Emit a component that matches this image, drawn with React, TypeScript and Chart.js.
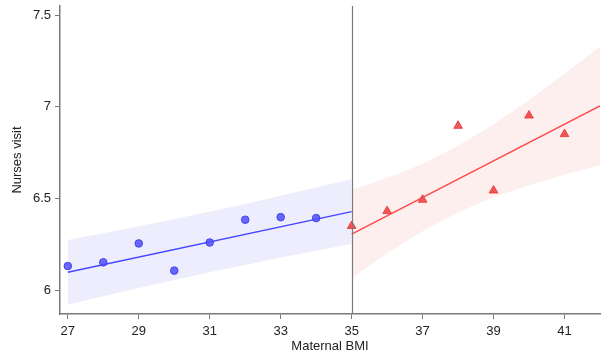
import React, { useEffect, useRef } from "react";
import { Chart, registerables } from "chart.js";

Chart.register(...registerables);

// Binned means, left group (circles)
const bmiLow = [27, 28, 29, 30, 31, 32, 33, 34];
const visitsLow = [6.134, 6.154, 6.257, 6.109, 6.262, 6.386, 6.4, 6.395];
// Binned means, right group (triangles)
const bmiHigh = [35, 36, 37, 38, 39, 40, 41];
const visitsHigh = [6.352, 6.433, 6.495, 6.897, 6.545, 6.953, 6.852];

// Fitted lines
const fitLowX = [27, 35];
const fitLowY = [6.1, 6.43];
const fitHighX = [35, 42];
const fitHighY = [6.308, 7.005];

// Confidence bands
const bandLowX = [27, 28, 29, 30, 31, 32, 33, 34, 35];
const bandLowLower = [5.924, 5.969, 6.015, 6.058, 6.1, 6.14, 6.18, 6.217, 6.254];
const bandLowUpper = [6.276, 6.313, 6.351, 6.39, 6.43, 6.472, 6.516, 6.561, 6.606];
const bandHighX = [35, 36, 37, 38, 39, 40, 41, 42];
const bandHighLower = [6.068, 6.203, 6.323, 6.425, 6.508, 6.574, 6.631, 6.682];
const bandHighUpper = [6.548, 6.613, 6.691, 6.789, 6.906, 7.038, 7.181, 7.328];

// Axes
const xTicks = [27, 29, 31, 33, 35, 37, 39, 41];
const yTicks = [6, 6.5, 7, 7.5];
const cutoff = 35;

const pts = (xs: number[], ys: number[]) => xs.map((x, i) => ({ x, y: ys[i] }));

export default function App() {
  const ref = useRef<HTMLCanvasElement | null>(null);

  useEffect(() => {
    if (!ref.current) return;
    const font = { family: "'Liberation Sans', Arial, sans-serif", size: 13 };
    const axisColor = "#7a7a7a";

    const cutoffLine = {
      id: "cutoffLine",
      afterDatasetsDraw(chart: any) {
        const { ctx, chartArea, scales } = chart;
        const x = Math.round(scales.x.getPixelForValue(cutoff)) + 0.5;
        ctx.save();
        ctx.strokeStyle = "#7a7a7a";
        ctx.lineWidth = 1.2;
        ctx.beginPath();
        ctx.moveTo(x, chartArea.top);
        ctx.lineTo(x, chartArea.bottom);
        ctx.stroke();
        ctx.restore();
      },
    };

    const chart = new Chart(ref.current, {
      type: "scatter",
      data: {
        datasets: [
          {
            type: "scatter",
            data: pts(bmiLow, visitsLow),
            pointStyle: "circle",
            pointRadius: 3.8,
            backgroundColor: "rgba(80,80,255,0.85)",
            borderColor: "rgba(60,60,230,0.9)",
            borderWidth: 1,
            order: 0,
          },
          {
            type: "scatter",
            data: pts(bmiHigh, visitsHigh),
            pointStyle: "triangle",
            pointRadius: 5,
            backgroundColor: "rgba(240,70,70,0.9)",
            borderColor: "rgba(230,60,60,0.9)",
            borderWidth: 1,
            order: 0,
          },
          {
            type: "line",
            data: pts(fitLowX, fitLowY),
            borderColor: "#4646ff",
            borderWidth: 1.5,
            pointRadius: 0,
            fill: false,
            order: 1,
          },
          {
            type: "line",
            data: pts(fitHighX, fitHighY),
            borderColor: "#ff4a4a",
            borderWidth: 1.5,
            pointRadius: 0,
            fill: false,
            order: 1,
          },
          {
            type: "line",
            data: pts(bandLowX, bandLowUpper),
            borderWidth: 0,
            borderColor: "rgba(0,0,0,0)",
            backgroundColor: "rgba(225,225,252,0.6)",
            pointRadius: 0,
            fill: "+1",
            order: 3,
          },
          {
            type: "line",
            data: pts(bandLowX, bandLowLower),
            borderWidth: 0,
            borderColor: "rgba(0,0,0,0)",
            pointRadius: 0,
            fill: false,
            order: 3,
          },
          {
            type: "line",
            data: pts(bandHighX, bandHighUpper),
            borderWidth: 0,
            borderColor: "rgba(0,0,0,0)",
            backgroundColor: "rgba(253,232,232,0.7)",
            pointRadius: 0,
            fill: "+1",
            order: 3,
          },
          {
            type: "line",
            data: pts(bandHighX, bandHighLower),
            borderWidth: 0,
            borderColor: "rgba(0,0,0,0)",
            pointRadius: 0,
            fill: false,
            order: 3,
          },
        ] as any,
      },
      options: {
        responsive: false,
        animation: false,
        layout: { autoPadding: false, padding: { top: 6, right: 1, left: 0, bottom: 0 } },
        plugins: {
          legend: { display: false },
          tooltip: { enabled: false },
        },
        scales: {
          x: {
            type: "linear",
            min: 26.78,
            max: 42,
            afterBuildTicks: (s: any) => {
              s.ticks = xTicks.map((v) => ({ value: v }));
            },
            afterFit: (s: any) => {
              s.height = 41;
              s.paddingLeft = 0;
              s.paddingRight = 0;
            },
            ticks: {
              font,
              color: "#222",
              padding: 5,
              maxRotation: 0,
              autoSkip: false,
              callback: (v: any) => String(v),
            },
            grid: {
              drawOnChartArea: false,
              drawTicks: true,
              tickLength: 5,
              color: axisColor,
              tickColor: axisColor,
            },
            border: { color: axisColor, width: 1.5 },
            title: {
              display: true,
              text: "Maternal BMI",
              font,
              color: "#222",
              padding: { top: 0, bottom: 1 },
            },
          },
          y: {
            type: "linear",
            min: 5.873,
            max: 7.549,
            afterBuildTicks: (s: any) => {
              s.ticks = yTicks.map((v) => ({ value: v }));
            },
            afterFit: (s: any) => {
              s.width = 60;
              s.paddingTop = 0;
              s.paddingBottom = 0;
            },
            ticks: {
              font,
              color: "#222",
              padding: 4,
              autoSkip: false,
              callback: (v: any) => String(v),
            },
            grid: {
              drawOnChartArea: false,
              drawTicks: true,
              tickLength: 5,
              color: axisColor,
              tickColor: axisColor,
            },
            border: { color: axisColor, width: 1.5 },
            title: {
              display: true,
              text: "Nurses visit",
              font,
              color: "#222",
              padding: { top: 10, bottom: 0 },
            },
          },
        },
      } as any,
      plugins: [cutoffLine],
    });
    return () => chart.destroy();
  }, []);

  return (
    <div style={{ position: "absolute", left: 0, top: 0, width: 601, height: 355, background: "#fff" }}>
      <canvas ref={ref} width={601} height={355} style={{ display: "block" }} />
    </div>
  );
}
